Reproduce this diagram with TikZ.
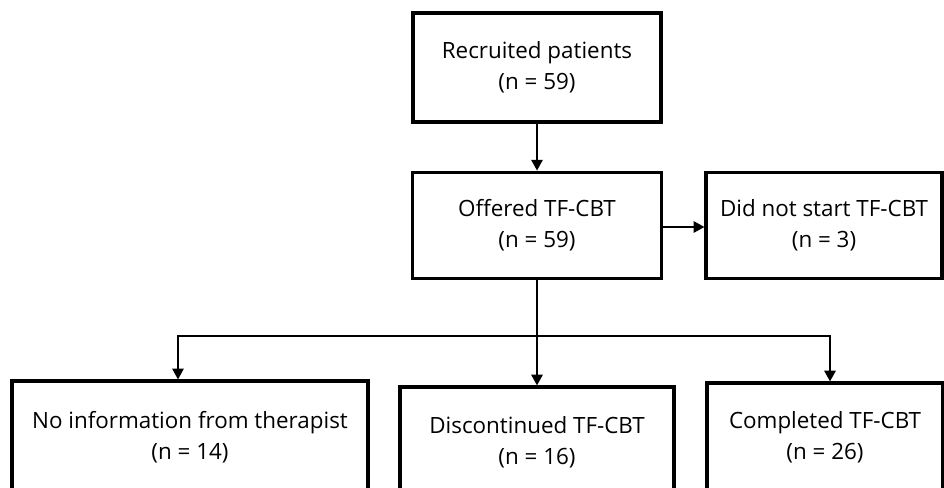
\documentclass[tikz,border=0pt]{standalone}
\usepackage{fontspec}
\setmainfont{Open Sans}
\usetikzlibrary{arrows.meta,positioning}
\tikzset{
  box/.style={draw,line width=2.4pt,inner sep=0pt,align=center},
  link/.style={line width=1.2pt},
  arr/.style={link,-{Triangle[length=8pt,width=8.5pt]}}
}
\begin{document}
\begin{tikzpicture}[x=0.75pt,y=-0.75pt,font=\fontsize{16.8}{23}\selectfont]
\useasboundingbox (0,0) rectangle (944,488);
\clip (0,0) rectangle (944,488);
% top row
\node[box,minimum width=186pt,minimum height=81.75pt] (rec) at (537,67.5) {Recruited patients\\(n = 59)};
\node[box,minimum width=187pt,minimum height=80pt] (off) at (537,225.5) {Offered TF-CBT\\(n = 59)};
\node[box,minimum width=177pt,minimum height=80pt] (dns) at (824,225.5) {Did not start TF-CBT\\(n = 3)};
% outcomes
\node[box,minimum width=267pt,minimum height=84pt] (noinfo) at (190,437) {No information from therapist\\(n = 14)};
\node[box,minimum width=205.5pt,minimum height=82.5pt] (disc) at (537,442) {Discontinued TF-CBT\\(n = 16)};
\node[box,minimum width=177pt,minimum height=81pt] (comp) at (825,437) {Completed TF-CBT\\(n = 26)};
% arrows
\draw[arr] (rec) -- (off);
\draw[arr] (off.east |- 0,227) -- (dns.west |- 0,227);
\draw[link] (off.south) -- (537,336) coordinate (split);
\draw[arr] (split) -| ([xshift=-9pt]noinfo.north);
\draw[arr] (split) -- (disc.north);
\draw[arr] (split) -| ([xshift=3.75pt]comp.north);
\end{tikzpicture}
\end{document}
